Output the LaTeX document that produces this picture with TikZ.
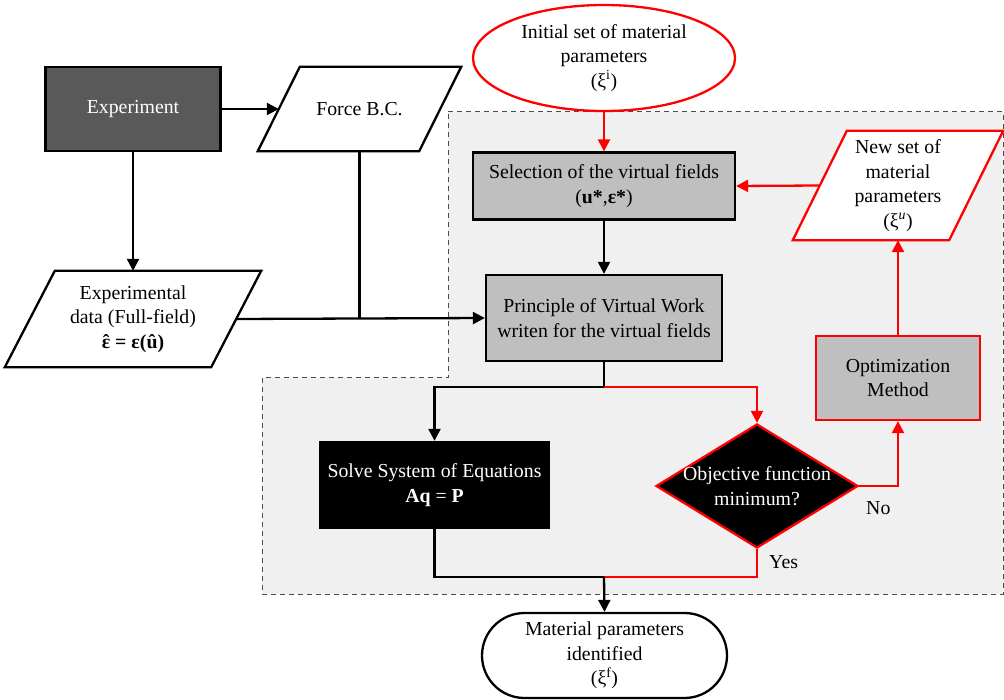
\documentclass[tikz,border=0pt]{standalone}
\usepackage{fontspec}
\setmainfont{Liberation Serif}
\usetikzlibrary{arrows.meta,shapes.geometric}
\definecolor{expgray}{HTML}{595959}
\definecolor{boxgray}{HTML}{BFBFBF}
\definecolor{regiongray}{HTML}{F0F0F0}
\definecolor{myred}{HTML}{FF0000}
\pgfdeclarelayer{back}
\pgfdeclarelayer{mid}
\pgfsetlayers{back,mid,main}
\newcommand\epshat{\ooalign{ε\cr\hidewidth ˆ\hidewidth\cr}}
\newcommand\parashape[3]{%
  \begin{pgfonlayer}{mid}
    \draw[line width=2.3pt,#3,fill=white] ([xshift=#2pt]#1.north west) -- ([xshift=#2pt]#1.north east) -- ([xshift=-#2pt]#1.south east) -- ([xshift=-#2pt]#1.south west) -- cycle;
  \end{pgfonlayer}}
\begin{document}
\begin{tikzpicture}[x=1pt,y=-1pt,
  font=\fontsize{19.8}{24.5}\selectfont,
  box/.style={rectangle,draw,line width=2.3pt,align=center,inner sep=0pt},
  txt/.style={rectangle,align=center,inner sep=0pt},
  conn/.style={line width=2.3pt,-{Triangle[length=12pt,width=12pt]}},
  plainline/.style={line width=2.3pt},
  redconn/.style={conn,myred},
  redline/.style={plainline,myred}]
\useasboundingbox (0,0) rectangle (1004,700);

% dashed region
\begin{pgfonlayer}{back}
\fill[regiongray] (448,112) -- (1003,112) -- (1003,594) -- (262,594) -- (262,378) -- (448,378) -- cycle;
\draw[dash pattern=on 5pt off 4pt,gray!60!black,line width=1pt] (448,112) -- (1003,112) -- (1003,594) -- (262,594) -- (262,378) -- (448,378) -- cycle;
\end{pgfonlayer}

% nodes
\node[box,fill=expgray,text=white,minimum width=175pt,minimum height=84pt] (exp) at (133,109) {Experiment};
\node[txt,minimum width=161pt,minimum height=84pt] (force) at (359.5,109) {Force B.C.};
\parashape{force}{21}{black}
\node[txt,minimum width=206pt,minimum height=96pt] (data) at (133,319) {Experimental\\data (Full-field)\\\textbf{\epshat\ = ε(û)}};
\parashape{data}{25}{black}

\node[ellipse,draw=myred,line width=2.3pt,fill=white,minimum width=262pt,minimum height=106pt,inner sep=0pt,align=center] (ini) at (604,58) {Initial set of material\\parameters\\(ξ\textsuperscript{i})};
\node[box,fill=boxgray,minimum width=262pt,minimum height=67pt] (sel) at (604,186) {Selection of the virtual fields\\(\textbf{u*},\textbf{ε*})};
\node[box,fill=boxgray,minimum width=236pt,minimum height=86pt] (pvw) at (604,318) {Principle of Virtual Work\\writen for the virtual fields};
\node[box,fill=black,text=white,minimum width=229pt,minimum height=86pt] (solve) at (434.5,485) {Solve System of Equations\\\textbf{Aq} = \textbf{P}};
\node[diamond,draw=myred,fill=black,line width=2.3pt,minimum width=202pt,minimum height=124pt,inner sep=0pt] (dia) at (757,486) {};
\node[txt,text=white] (diatext) at (dia.center) {Objective function\\minimum?};
\node[box,draw=myred,fill=boxgray,minimum width=164pt,minimum height=84pt] (opt) at (898,378) {Optimization\\Method};
\node[txt,minimum width=156pt,minimum height=109pt] (newp) at (898,185.5) {New set of\\material\\parameters\\(ξ\textsuperscript{\textit{u}})};
\parashape{newp}{27}{myred}
\node[box,rounded corners=42.5pt,fill=white,minimum width=245pt,minimum height=85pt] (term) at (604.5,655.5) {Material parameters\\identified\\(ξ\textsuperscript{f})};

\node[anchor=west,inner sep=0pt] (yes) at (769,562) {Yes};
\node[anchor=west,inner sep=0pt] (no) at (866,508) {No};

% junctions
\coordinate (j1) at (604,387);
\coordinate (j2) at (604,577);

% connectors
\draw[conn] (exp.east) -- (force.west);
\draw[conn] (exp.south) -- (data.north);
\draw[conn] (data.east) -- (pvw.west);
\draw[plainline] (force.south) -- (force.south |- pvw.west);
\draw[redconn] (ini.south) -- (sel.north);
\draw[conn] (sel.south) -- (pvw.north);
\draw[plainline] (pvw.south) -- (j1);
\draw[conn] (j1) -| (solve.north);
\draw[redconn] (j1) -| (dia.north);
\draw[redconn] (dia.east) -| (opt.south);
\draw[redconn] (opt.north) -- (newp.south);
\draw[redconn] (newp.west) -- (sel.east);
\draw[plainline] (solve.south) |- (j2);
\draw[redline] (dia.south) |- (j2);
\draw[conn] (j2) -- (term.north);
\end{tikzpicture}
\end{document}
